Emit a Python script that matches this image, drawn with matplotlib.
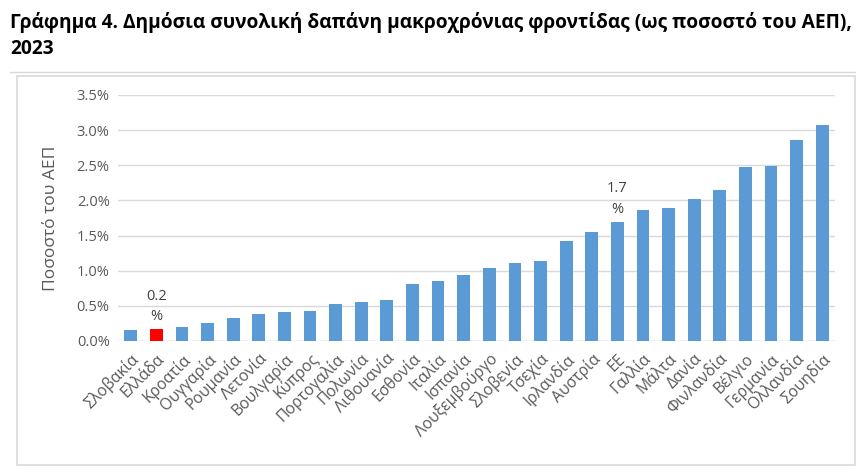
import matplotlib.pyplot as plt
from matplotlib.lines import Line2D
from matplotlib.patches import Rectangle

countries = ["Σλοβακία", "Ελλάδα", "Κροατία", "Ουγγαρία", "Ρουμανία", "Λετονία",
             "Βουλγαρία", "Κύπρος", "Πορτογαλία", "Πολωνία", "Λιθουανία", "Εσθονία",
             "Ιταλία", "Ισπανία", "Λουξεμβούργο", "Σλοβενία", "Τσεχία", "Ιρλανδία",
             "Αυστρία", "ΕΕ", "Γαλλία", "Μάλτα", "Δανία", "Φινλανδία", "Βέλγιο",
             "Γερμανία", "Ολλανδία", "Σουηδία"]
values = [0.15, 0.17, 0.20, 0.25, 0.33, 0.39, 0.41, 0.43, 0.52, 0.56, 0.58, 0.81,
          0.86, 0.94, 1.04, 1.11, 1.14, 1.42, 1.55, 1.70, 1.86, 1.89, 2.02, 2.15,
          2.47, 2.49, 2.86, 3.07]
labels = {"Ελλάδα": "0.2\n%", "ΕΕ": "1.7\n%"}
yticks = [0, 0.5, 1.0, 1.5, 2.0, 2.5, 3.0, 3.5]

plt.rcParams['font.family'] = ['Open Sans', 'DejaVu Sans']
gray = '#595959'

fig = plt.figure(figsize=(8.68, 4.75), dpi=100)
fig.text(0.012, 0.975, "Γράφημα 4. Δημόσια συνολική δαπάνη μακροχρόνιας φροντίδας (ως ποσοστό του ΑΕΠ),\n2023",
         fontsize=13.8, fontweight='bold', va='top', ha='left', color='black', linespacing=1.4)
fig.add_artist(Line2D([10/868, 855/868], [1-72/475, 1-72/475], color='#d9d9d9', lw=1))
fig.add_artist(Rectangle((17/868, 1-465/475), (855-17)/868, (465-76)/475, fill=False,
                         edgecolor='#d9d9d9', lw=1.2))

ax = fig.add_axes([118/868, 1-341/475, (835-118)/868, (341-95)/475])
colors = ['#ff0000' if c == "Ελλάδα" else '#5b9bd5' for c in countries]
x = range(len(countries))
ax.bar(x, values, width=0.5, color=colors, zorder=3)
for i, c in enumerate(countries):
    if c in labels:
        ax.text(i, values[i] + 0.07, labels[c], ha='center', va='bottom', fontsize=10.5,
                color='#404040', linespacing=1.5)

ax.set_xlim(-0.5, len(countries) - 0.5)
ax.set_ylim(0, 3.5)
ax.set_yticks(yticks)
ax.set_yticklabels([f"{t:.1f}%" for t in yticks], fontsize=10.5, color=gray)
ax.set_xticks(list(x))
ax.set_xticklabels(countries, rotation=45, ha='right', rotation_mode='anchor',
                   fontsize=11.3, color=gray)
ax.tick_params(length=0, pad=6)
ax.tick_params(axis='x', pad=7)
ax.grid(axis='y', color='#d9d9d9', lw=1, zorder=0)
for s in ax.spines.values():
    s.set_visible(False)
ax.axhline(0, color='#d9d9d9', lw=1, zorder=2)
ax.set_ylabel("Ποσοστό του ΑΕΠ", fontsize=12.5, color=gray, labelpad=13)

fig.savefig("out.png", dpi=100)
